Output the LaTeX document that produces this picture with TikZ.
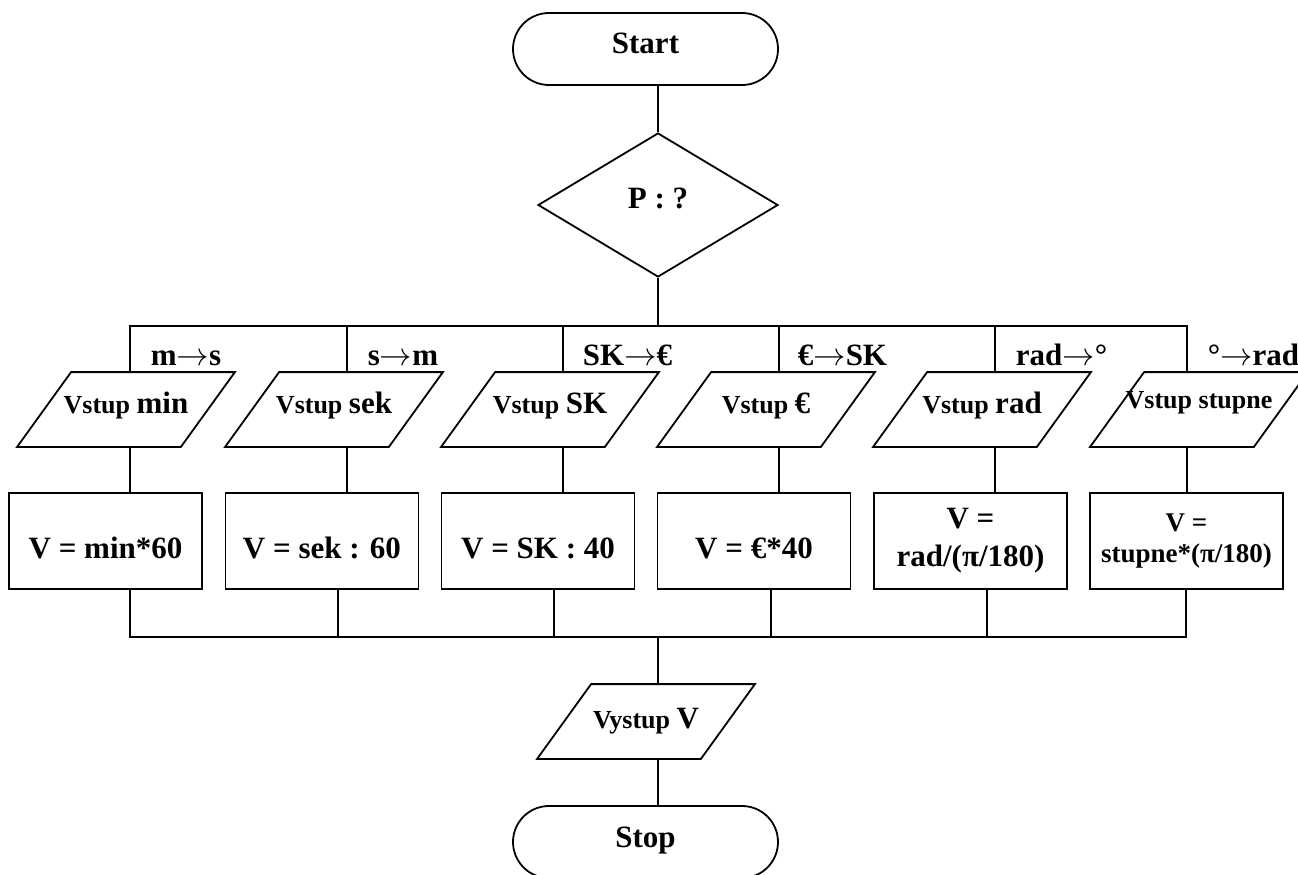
\documentclass[tikz,border=0pt]{standalone}
\usepackage{graphicx}
\usepackage{fontspec}
\setmainfont{Liberation Serif}
\usetikzlibrary{shapes.geometric,calc}
\newcommand{\szL}{\fontsize{31}{38}\selectfont}
\newcommand{\szS}{\fontsize{26}{30}\selectfont}
\newcommand{\szM}{\fontsize{27}{31}\selectfont}
\newcommand{\toarr}{\scalebox{1.3}{$\rightarrow$}}

\begin{document}
\begin{tikzpicture}[x=1pt,y=-1pt, line width=1.8pt,
  every node/.style={font=\bfseries\szL, inner sep=0pt},
  terminal/.style={draw, rectangle, rounded corners=36pt, minimum width=265pt,
    minimum height=72pt, text height=21pt, text depth=11pt},
  decision/.style={draw, diamond, minimum width=240pt, minimum height=144pt,
    text height=21pt, text depth=15pt},
  iobox/.style={minimum width=162pt, minimum height=73pt, text height=21pt, text depth=14pt},
  procbox/.style={draw, rectangle, minimum width=193pt, minimum height=96pt,
    text height=38pt, text depth=4pt},
  procboxtwo/.style={draw, rectangle, minimum width=193pt, minimum height=96pt, align=center},
  caselabel/.style={anchor=base west}
]
\clip (0,0) rectangle (1298,875);

% start and the choice of conversion
\node[terminal] (start) at (645.5,49) {Start};
\node[decision] (dec) at (658,205) {P : ?};

% branch points on the upper and lower bus
\coordinate (bt) at (658,326);
\foreach \i/\x in {1/130,2/347,3/563,4/779,5/995,6/1187} \coordinate (b\i) at (\x,326);
\foreach \i/\x in {1/130,2/338,3/554,4/771,5/987,6/1186} \coordinate (c\i) at (\x,637);
\coordinate (cm) at (658,637);

% case labels
\node[caselabel] (l1) at ($(b1)+(20,39)$) {m\toarr s};
\node[caselabel] (l2) at ($(b2)+(20,39)$) {s\toarr m};
\node[caselabel] (l3) at ($(b3)+(19,39)$) {SK\toarr €};
\node[caselabel] (l4) at ($(b4)+(18,39)$) {€\toarr SK};
\node[caselabel] (l5) at ($(b5)+(20,39)$) {rad\toarr °};
\node[caselabel] (l6) at ($(b6)+(20,39)$) {°\toarr rad};

% inputs
\node[iobox] (i1) at (126,409.5) {\szS Vstup \szL min};
\node[iobox] (i2) at (334,409.5) {\szS Vstup \szL sek};
\node[iobox] (i3) at (550,409.5) {\szS Vstup \szL SK};
\node[iobox] (i4) at (766,409.5) {\szS Vstup \szL €};
\node[iobox] (i5) at (982,409.5) {\szS Vstup \szL rad};
\node[iobox, text depth=24pt] (i6) at (1199,409.5) {\szS Vstup stupne};

% computations
\node[procbox] (r1) at (105.5,541) {V = min*60};
\node[procbox] (r2) at (322,541) {V = sek : 60};
\node[procbox] (r3) at (538,541) {V = SK : 40};
\node[procbox] (r4) at (754,541) {V = €*40};
\node[procboxtwo] (r5) at (970.5,541) {V =\\rad/(π/180)};
\node[procboxtwo, font=\bfseries\szM] (r6) at (1186.5,541) {V =\\stupne*(π/180)};

% output and end
\node[iobox, text depth=8pt] (out) at (646,721.5) {\szS Vystup \szL V};
\node[terminal] (stop) at (645.5,842) {Stop};

% parallelogram outlines of the input/output nodes
\foreach \n in {i1,i2,i3,i4,i5,i6,out}
  \draw ($(\n.north west)+(27,0)$) -- ($(\n.north east)+(27,0)$)
     -- ($(\n.south east)+(-27,0)$) -- ($(\n.south west)+(-27,0)$) -- cycle;

% connectors
\draw (start.south -| dec.north) -- (dec.north);
\draw (dec.south) -- (bt);
\draw (b1 |- i1.north) -- (b1) -- (b6) -- (b6 |- i6.north);
\foreach \i in {2,3,4,5} \draw (b\i) -- (b\i |- i\i.north);
\foreach \i in {1,...,6} \draw (b\i |- i\i.south) -- (b\i |- r\i.north);
\draw (c1 |- r1.south) -- (c1) -- (c6) -- (c6 |- r6.south);
\foreach \i in {2,3,4,5} \draw (c\i |- r\i.south) -- (c\i);
\draw (cm) -- (cm |- out.north);
\draw (cm |- out.south) -- (cm |- stop.north);
\end{tikzpicture}
\end{document}
